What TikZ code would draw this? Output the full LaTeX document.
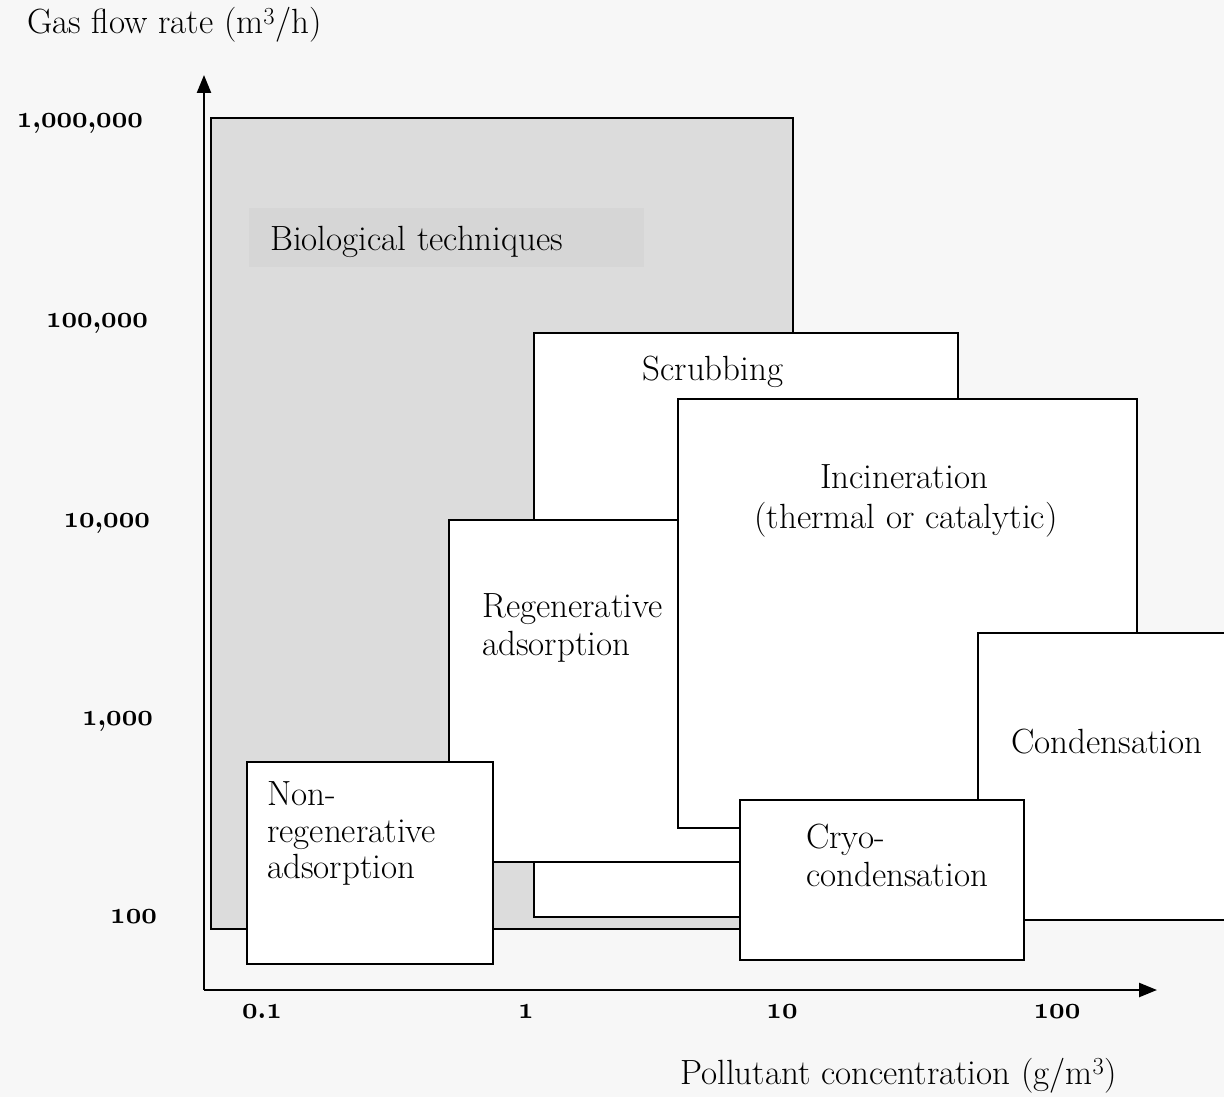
\documentclass[tikz,border=0pt]{standalone}
\usepackage{graphicx}
\usetikzlibrary{arrows.meta}
\definecolor{biogray}{HTML}{DCDCDC}
\definecolor{labgray}{HTML}{D6D6D6}
\definecolor{bggray}{HTML}{F7F7F7}
\newcommand{\osn}[1]{{\usefont{OML}{cmm}{b}{it}#1}}
\newcommand{\tcomma}{{\bfseries,}}
\newcommand{\tdot}{{\bfseries.}}
\newcommand{\tk}[1]{\scalebox{2.7}[3.1]{\fontsize{10}{12}\selectfont #1}}
\begin{document}
\begin{tikzpicture}[x=1pt,y=-1pt,
  box/.style={draw=black,line width=2pt,fill=white},
  lab/.style={font=\fontsize{35}{40}\selectfont, inner sep=0pt},
  tick/.style={inner sep=0pt},
  axis/.style={line width=2.4pt,-{Triangle[length=18pt,width=14pt]}}]
\useasboundingbox (0,0) rectangle (1224,1097);
\fill[bggray] (0,0) rectangle (1224,1097);
\clip (0,0) rectangle (1224,1097);
% Biological techniques
\draw[box,fill=biogray] (211,118) rectangle (793,929);
\fill[labgray] (249,208) rectangle (644,267);
\node[lab,anchor=base west] (bio) at (270,250) {Biological techniques};
% Scrubbing
\draw[box] (534,333) rectangle (958,917);
\node[lab,anchor=base] (scrub) at (713,380) {Scrubbing};
% Regenerative adsorption
\draw[box] (449,520) rectangle (800,862);
\node[lab,anchor=base west] (reg1) at (482,617) {Regenerative};
\node[lab,anchor=base west] (reg2) at (482,655) {adsorption};
% Incineration
\draw[box] (678,399) rectangle (1137,828);
\node[lab,anchor=base] (inc1) at (904,488) {Incineration};
\node[lab,anchor=base] (inc2) at (906,528) {(thermal or catalytic)};
% Condensation
\draw[box] (978,633) rectangle (1240,920);
\node[lab,anchor=base] (cond) at (1107,753) {Condensation};
% Cryo-condensation
\draw[box] (740,800) rectangle (1024,960);
\node[lab,anchor=base west] (cryo1) at (806,848) {Cryo-};
\node[lab,anchor=base west] (cryo2) at (806,886) {condensation};
% Non-regenerative adsorption
\draw[box] (247,762) rectangle (493,964);
\node[lab,anchor=base west] (nr1) at (267,805) {Non-};
\node[lab,anchor=base west] (nr2) at (267,842) {regenerative};
\node[lab,anchor=base west] (nr3) at (267,878) {adsorption};
% axes
\coordinate (origin) at (204,990);
\coordinate (ytip) at (204,75);
\coordinate (xtip) at (1157,990);
\draw[axis] (origin) -- (ytip);
\draw[axis] (origin) -- (xtip);
% axis titles
\node[lab,anchor=base west] (ytitle) at (27,34) {Gas flow rate (m\textsuperscript{3}/h)};
\node[lab,anchor=base east] (xtitle) at (1117,1084) {Pollutant concentration (g/m\textsuperscript{3})};
% y ticks
\node[tick,anchor=base east] (y1) at (143,128) {\tk{\osn{1}\tcomma\osn{000}\tcomma\osn{000}}};
\node[tick,anchor=base east] (y2) at (148,327) {\tk{\osn{100}\tcomma\osn{000}}};
\node[tick,anchor=base east] (y3) at (150,527) {\tk{\osn{10}\tcomma\osn{000}}};
\node[tick,anchor=base east] (y4) at (153,725) {\tk{\osn{1}\tcomma\osn{000}}};
\node[tick,anchor=base east] (y5) at (157,923) {\tk{\osn{100}}};
% x ticks
\node[tick,anchor=base] (x1) at (262,1018) {\tk{\osn{0}\tdot\osn{1}}};
\node[tick,anchor=base] (x2) at (526,1018) {\tk{\osn{1}}};
\node[tick,anchor=base] (x3) at (782,1018) {\tk{\osn{10}}};
\node[tick,anchor=base] (x4) at (1057,1018) {\tk{\osn{100}}};
\end{tikzpicture}
\end{document}
